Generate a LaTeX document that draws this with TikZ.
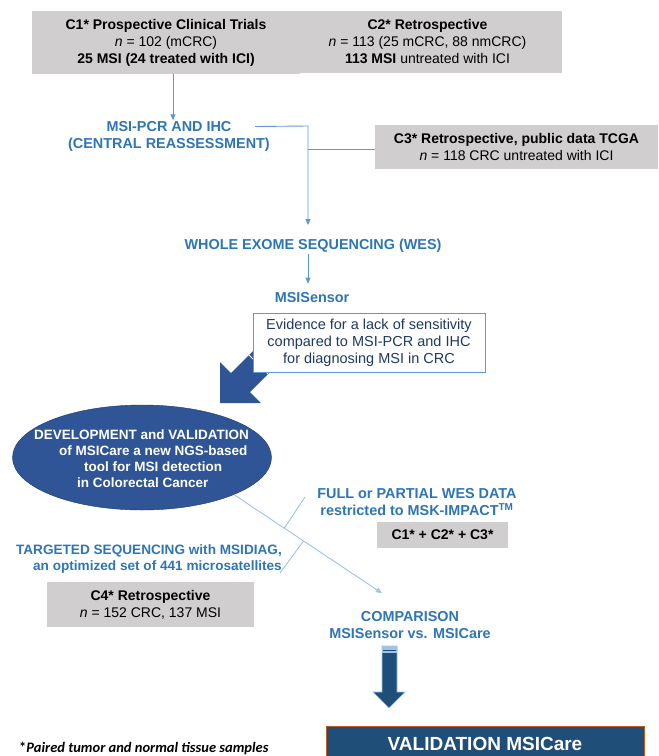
\documentclass[tikz,border=0pt]{standalone}
\usepackage{fontspec}
\setmainfont{Liberation Sans}
\newfontfamily\notefont{Carlito}
\usetikzlibrary{shapes.geometric,arrows.meta}

\definecolor{boxgray}{HTML}{D0CECE}
\definecolor{txtblue}{HTML}{2E75B6}
\definecolor{lineblue}{HTML}{5B9BD5}
\definecolor{paleblue}{HTML}{9DC3E6}
\definecolor{navy}{HTML}{1F3864}
\definecolor{arrowblue}{HTML}{2F5597}
\definecolor{darkblue}{HTML}{1F4E79}
\definecolor{rust}{HTML}{C55A11}

\begin{document}
\begin{tikzpicture}[x=1pt,y=-1pt,
  font=\fontsize{14}{17}\selectfont,
  cohort/.style={fill=boxgray,align=center,inner sep=0pt},
  stage/.style={text=txtblue,font=\fontsize{14.4}{17}\selectfont\bfseries,align=center,inner sep=1pt},
  wire/.style={lineblue,line width=0.9pt},
  link/.style={wire,-{Triangle[length=6pt,width=5pt]}},
  pale/.style={paleblue,line width=0.9pt}]
\useasboundingbox (0,0) rectangle (659,756);
\clip (0,0) rectangle (659,756);

% cohorts
\node[cohort,minimum width=268pt,minimum height=63pt] (c1) at (166,42.5)
  {\textbf{C1* Prospective Clinical Trials}\\\textit{n} = 102 (mCRC)\\\textbf{25 MSI (24 treated with ICI)}};
\node[cohort,minimum width=269pt,minimum height=62pt] (c2) at (427.5,42)
  {\textbf{C2* Retrospective}\\\textit{n} = 113 (25 mCRC, 88 nmCRC)\\\textbf{113 MSI} untreated with ICI};
\node[cohort,minimum width=283pt,minimum height=44pt] (c3) at (516.5,147)
  {\textbf{C3* Retrospective, public data TCGA}\\\textit{n} = 118 CRC untreated with ICI};

\node[stage] (pcr) at (169,136.5) {MSI-PCR AND IHC\\(CENTRAL REASSESSMENT)};
\node[stage] (wes) at (313,246) {WHOLE EXOME SEQUENCING (WES)};
\node[stage] (sensor) at (312,298) {MSISensor};

\coordinate (j1) at (308,126);
\coordinate (j2) at (308,149);

\draw[link] ([xshift=7pt]c1.south) -- ([xshift=4pt]pcr.north);
\draw[link,shorten >=13pt] ([xshift=-16pt,yshift=10pt]pcr.east) -- (j1) -- (j1 |- wes.north);
\draw[wire] (c3.west |- j2) -- (j2);
\draw[link,shorten >=8pt] (wes.south -| j1) -- (sensor.north -| j1);

% big arrow under the evidence box
\fill[arrowblue] (220,403) -- (220,362) -- (231,373) -- (263,341) -- (282,360)
  -- (250,392) -- (261,403) -- cycle;
\draw[white,line width=0.8pt] (249,355) -- (268,374) (253,351) -- (272,370);

\node[draw=lineblue,fill=white,text=navy,align=center,minimum width=232pt,minimum height=59pt,inner sep=0pt,
  font=\fontsize{14.5}{17}\selectfont] (evid) at (369,342.5)
  {Evidence for a lack of sensitivity\\compared to MSI-PCR and IHC\\for diagnosing MSI in CRC};

\node[ellipse,draw=navy,fill=arrowblue,minimum width=259pt,minimum height=105pt,inner sep=0pt] (dev) at (142,457.5) {};
\node[text=white,align=left,anchor=west,inner sep=0pt,font=\fontsize{13.5}{16}\selectfont\bfseries] (devtext) at (34,459)
  {DEVELOPMENT and VALIDATION\\\hspace*{25pt}of MSICare a new NGS-based\\\hspace*{50pt}tool for MSI detection\\\hspace*{43pt}in Colorectal Cancer};

\node[stage] (full) at (417,502) {FULL or PARTIAL WES DATA\\restricted to MSK-IMPACT\textsuperscript{TM}};
\node[cohort,minimum width=131pt,minimum height=26pt,font=\fontsize{14}{17}\selectfont\bfseries] (c123) at (442.5,535) {C1* + C2* + C3*};
\node[stage,align=right,anchor=east,font=\fontsize{13.6}{16.5}\selectfont\bfseries] (targ) at (283,559)
  {TARGETED SEQUENCING with MSIDIAG,\\an optimized set of 441 microsatellites};
\node[cohort,minimum width=207pt,minimum height=45pt] (c4) at (150.5,604.5)
  {\textbf{C4* Retrospective}\\\textit{n} = 152 CRC, 137 MSI};
\node[stage] (comp) at (410,625) {COMPARISON\\MSISensor vs. MSICare};

\draw[pale,-{Triangle[length=6pt,width=5pt]}] (dev.-22) -- ([xshift=-28pt,yshift=17pt]comp.north);
\path (dev.-22) -- ([xshift=-28pt,yshift=17pt]comp.north) coordinate[pos=0.34] (b1) coordinate[pos=0.47] (b2);
\coordinate (f1) at (305,497);
\coordinate (f2) at (280,573);
\draw[pale] (b1) -- (f1);
\draw[pale] (b2) -- (f2);

% down arrow
\fill[darkblue,draw=paleblue,line width=0.6pt] (382,646) -- (397,646) -- (397,692) -- (405,692) -- (389,708)
  -- (373,692) -- (382,692) -- cycle;
\fill[paleblue] (382,646) rectangle (397,653);
\draw[darkblue,line width=0.7pt] (383,650) -- (396,650);

\filldraw[draw=rust,line width=1pt,fill=darkblue] (326,726) rectangle (644,770);
\node[text=white,inner sep=0pt,font=\fontsize{19}{22}\selectfont\bfseries] (valid) at (485,744) {VALIDATION MSICare};

\node[anchor=west,inner sep=0pt,font=\notefont\fontsize{14.5}{17}\selectfont\bfseries] (note) at (19,748)
  {*\textit{Paired tumor and normal tissue samples}};
\end{tikzpicture}
\end{document}
